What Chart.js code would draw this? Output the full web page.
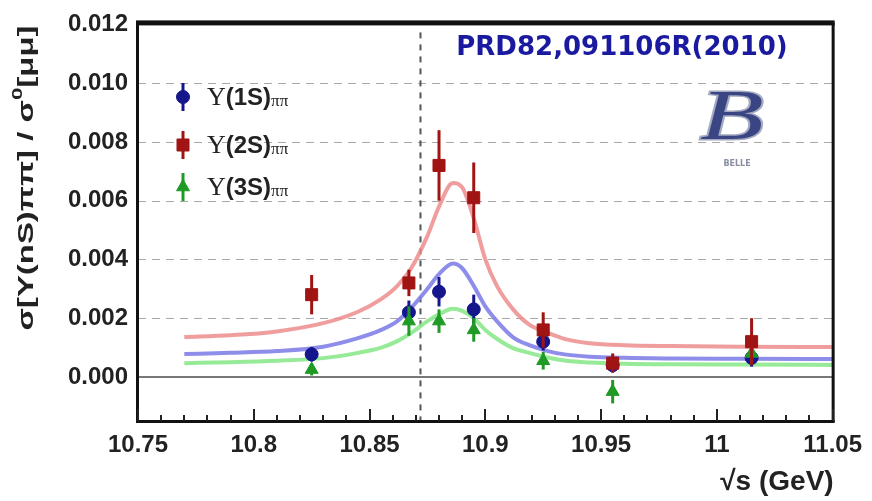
<!DOCTYPE html>
<html>
<head>
<meta charset="utf-8">
<script src="https://cdn.jsdelivr.net/npm/chart.js@4.4.0/dist/chart.umd.min.js"></script>
<style>
  body { margin: 0; background: #fff; }
  canvas { display: block; }
</style>
</head>
<body>
<canvas id="chartUps" width="872" height="501"></canvas>
<script>
// scan energies (GeV) and measured ratios
const energies = [10.825, 10.867, 10.880, 10.895, 10.925, 10.955, 11.015];

const ups1S    = [0.00077, 0.0022, 0.0029, 0.0023, 0.0012, 0.0004, 0.00065];
const ups1SErr = [0.00025, 0.0004, 0.0005, 0.0005, 0.0003, 0.0002, 0.0003];

const ups2S    = [0.0028, 0.0032, 0.0072, 0.0061, 0.0016, 0.00047, 0.0012];
const ups2SErr = [0.00067, 0.00045, 0.0012, 0.0012, 0.0006, 0.00033, 0.0008];

const ups3S    = [0.00025, 0.0019, 0.0019, 0.0016, 0.00055, -0.0005, 0.0008];
const ups3SErr = [0.0002, 0.0005, 0.0004, 0.0004, 0.0003, 0.0004, 0.0003];

// fitted curves
const fitX  = [10.77, 10.79, 10.81, 10.83, 10.845, 10.855, 10.862, 10.868, 10.875, 10.880, 10.886, 10.890,
               10.895, 10.900, 10.905, 10.912, 10.919, 10.927, 10.935, 10.945, 10.96, 10.98, 11.01, 11.05];
const fit2S = [0.00136, 0.00142, 0.00155, 0.00183, 0.00222, 0.00265, 0.0031, 0.0037, 0.0048, 0.0058, 0.0066, 0.00645,
               0.0054, 0.0040, 0.0031, 0.0023, 0.00178, 0.0015, 0.00128, 0.00115, 0.00108, 0.00105, 0.00103, 0.00102];
const fit1S = [0.00078, 0.00082, 0.00088, 0.00103, 0.00132, 0.0016, 0.0019, 0.00235, 0.0030, 0.0035, 0.00386, 0.0037,
               0.0031, 0.0024, 0.0019, 0.00135, 0.00108, 0.00088, 0.00076, 0.00069, 0.00065, 0.00063, 0.00062, 0.00061];
const fit3S = [0.00047, 0.0005, 0.00055, 0.00064, 0.00082, 0.001, 0.00122, 0.0015, 0.0019, 0.00213, 0.00232, 0.00225,
               0.002, 0.0016, 0.0013, 0.00098, 0.00082, 0.00066, 0.00055, 0.00049, 0.00045, 0.00043, 0.00042, 0.00041];

const xTicks = [10.75, 10.8, 10.85, 10.9, 10.95, 11, 11.05];
const xTickLabels = ['10.75', '10.8', '10.85', '10.9', '10.95', '11', '11.05'];
const yTicks = [0, 0.002, 0.004, 0.006, 0.008, 0.010, 0.012];
const peakLine = 10.872;

const legendItems = [
  { name: '1S', color: '#15158c', style: 'circle', r: 6.5 },
  { name: '2S', color: '#a01414', style: 'rect', r: 8.5 },
  { name: '3S', color: '#1f9a24', style: 'triangle', r: 7.5 }
];

const toPts = (xs, ys) => xs.map((x, i) => ({ x: x, y: ys[i] }));

const curve = (data, color) => ({
  data: toPts(fitX, data), showLine: true, borderColor: color, borderWidth: 4,
  pointRadius: 0, cubicInterpolationMode: 'monotone', order: 2
});
const marks = (data, errs, color, style, r) => ({
  data: toPts(energies, data), errors: errs, showLine: false,
  pointStyle: style, pointRadius: r, pointBackgroundColor: color, pointBorderColor: color,
  pointBorderWidth: 1, order: 1
});

const tickFont = { family: 'Liberation Sans', size: 24, weight: 'bold' };

// grid, zero line and the vertical dashed marker
const backdrop = {
  id: 'backdrop',
  beforeDatasetsDraw(chart) {
    const { ctx, chartArea: a, scales: { x, y } } = chart;
    ctx.save();
    ctx.strokeStyle = '#a8a8a8';
    ctx.lineWidth = 1;
    ctx.setLineDash([8, 6]);
    yTicks.forEach(v => {
      if (v === 0 || v === 0.012) return;
      const py = Math.round(y.getPixelForValue(v)) + 0.5;
      ctx.beginPath(); ctx.moveTo(a.left, py); ctx.lineTo(a.right, py); ctx.stroke();
    });
    ctx.setLineDash([]);
    ctx.strokeStyle = '#777';
    ctx.lineWidth = 2;
    const py0 = y.getPixelForValue(0);
    ctx.beginPath(); ctx.moveTo(a.left, py0); ctx.lineTo(a.right, py0); ctx.stroke();

    ctx.strokeStyle = '#4f5858';
    ctx.lineWidth = 2;
    ctx.setLineDash([6, 6]);
    const px = x.getPixelForValue(peakLine);
    ctx.beginPath(); ctx.moveTo(px, a.top + 8); ctx.lineTo(px, a.bottom); ctx.stroke();
    ctx.restore();
  },
  // error bars go right under their own markers
  beforeDatasetDraw(chart, args) {
    const ds = chart.data.datasets[args.index];
    if (!ds.errors) return;
    const { ctx, scales: { x, y } } = chart;
    ctx.save();
    ctx.strokeStyle = ds.pointBackgroundColor;
    ctx.lineWidth = 3;
    ds.data.forEach((p, j) => {
      const px = x.getPixelForValue(p.x);
      ctx.beginPath();
      ctx.moveTo(px, y.getPixelForValue(p.y - ds.errors[j]));
      ctx.lineTo(px, y.getPixelForValue(p.y + ds.errors[j]));
      ctx.stroke();
    });
    ctx.restore();
  }
};

const frame = {
  id: 'frame',
  afterDraw(chart) {
    const { ctx, chartArea: a, scales: { x } } = chart;
    ctx.save();
    ctx.fillStyle = '#111';
    ctx.fillRect(a.left - 2, a.top - 4, a.right - a.left + 4, 5);   // top
    ctx.fillRect(a.left - 2, a.top - 2, 3, a.bottom - a.top + 3);   // left
    ctx.fillRect(a.right - 1, a.top - 2, 3, a.bottom - a.top + 3);  // right
    ctx.fillRect(a.left - 2, a.bottom - 1, a.right - a.left + 4, 3); // bottom

    // inward tick marks every 0.01
    ctx.strokeStyle = '#222';
    ctx.lineWidth = 2;
    for (let i = 0; i <= 30; i++) {
      const v = 10.75 + i * 0.01;
      const px = Math.round(x.getPixelForValue(v));
      const len = i % 5 === 0 ? 12 : 6;
      ctx.beginPath(); ctx.moveTo(px, a.bottom); ctx.lineTo(px, a.bottom - len); ctx.stroke();
    }

    // axis titles
    ctx.fillStyle = '#222';
    ctx.textBaseline = 'alphabetic';
    ctx.font = 'bold 28px "Liberation Sans"';
    ctx.textAlign = 'right';
    ctx.fillText('\u221As (GeV)', a.right + 1, 490);

    const partA = '\u03C3[\u03A5(nS)\u03C0\u03C0] / \u03C3';
    const partB = '[\u03BC\u03BC]';
    ctx.font = 'bold 22px "Liberation Sans"';
    const wA = ctx.measureText(partA).width;
    const wB = ctx.measureText(partB).width;
    ctx.font = 'bold 15px "Liberation Sans"';
    const wS = ctx.measureText('0').width;
    const total = wA + wS + wB;
    ctx.translate(33, 178);
    ctx.rotate(-Math.PI / 2);
    ctx.scale(305 / total, 1);
    ctx.textAlign = 'left';
    let tx = -total / 2;
    ctx.font = 'bold 22px "Liberation Sans"';
    ctx.fillText(partA, tx, 0); tx += wA;
    ctx.font = 'bold 15px "Liberation Sans"';
    ctx.fillText('0', tx, -11); tx += wS;
    ctx.font = 'bold 22px "Liberation Sans"';
    ctx.fillText(partB, tx, 0);
    ctx.restore();

    // reference tag
    ctx.save();
    ctx.fillStyle = '#1a1aa0';
    ctx.font = 'bold 26px "DejaVu Sans"';
    ctx.textAlign = 'center';
    ctx.textBaseline = 'middle';
    ctx.fillText('PRD82,091106R(2010)', 622, 48);

    // Belle logo
    ctx.save();
    ctx.translate(732, 120);
    ctx.scale(1.45, 1);
    ctx.font = 'italic 72px "Liberation Serif"';
    ctx.lineWidth = 3;
    ctx.strokeStyle = '#a4aabf';
    ctx.strokeText('B', 0, 0);
    ctx.fillStyle = '#3a4684';
    ctx.fillText('B', 0, 0);
    ctx.restore();
    ctx.font = 'bold 8px "DejaVu Sans"';
    ctx.fillStyle = '#8890a0';
    ctx.fillText('BELLE', 737, 164);
    ctx.restore();

    // legend
    ctx.save();
    const rows = [97, 145, 187];
    legendItems.forEach((it, i) => {
      const cy = rows[i];
      ctx.strokeStyle = it.color;
      ctx.fillStyle = it.color;
      ctx.lineWidth = 3;
      ctx.beginPath(); ctx.moveTo(183, cy - 14); ctx.lineTo(183, cy + 14); ctx.stroke();
      ctx.lineWidth = 1;
      Chart.helpers.drawPoint(ctx, { pointStyle: it.style, rotation: 0, borderWidth: 1, radius: it.r }, 183, cy);
      ctx.fillStyle = '#222';
      ctx.textBaseline = 'middle';
      ctx.textAlign = 'left';
      let lx = 207;
      ctx.font = '26px "Liberation Serif"';
      ctx.fillText('\u03A5', lx, cy + 1); lx += ctx.measureText('\u03A5').width;
      ctx.font = 'bold 24px "Liberation Sans"';
      const t = '(' + it.name + ')';
      ctx.fillText(t, lx, cy + 1); lx += ctx.measureText(t).width;
      ctx.font = '17px "Liberation Serif"';
      ctx.fillText('\u03C0\u03C0', lx, cy + 5);
    });
    ctx.restore();
  }
};

const ctx = document.getElementById('chartUps').getContext('2d');

new Chart(ctx, {
  type: 'scatter',
  data: {
    datasets: [
      curve(fit2S, 'rgba(236,140,140,0.85)'),
      curve(fit1S, 'rgba(130,130,232,0.9)'),
      curve(fit3S, 'rgba(140,232,140,0.9)'),
      marks(ups2S, ups2SErr, '#a01414', 'rect', 8.5),
      marks(ups3S, ups3SErr, '#1f9a24', 'triangle', 7.5),
      marks(ups1S, ups1SErr, '#15158c', 'circle', 6.5)
    ]
  },
  options: {
    responsive: false,
    animation: false,
    layout: { padding: { left: 0, right: 34, top: 20, bottom: 0 } },
    plugins: { legend: { display: false }, tooltip: { enabled: false } },
    scales: {
      x: {
        type: 'linear', min: 10.75, max: 11.05,
        grid: { display: false, drawTicks: false }, border: { display: false },
        afterBuildTicks: s => { s.ticks = xTicks.map(v => ({ value: v })); },
        afterFit: s => { s.height = 80; },
        ticks: { font: tickFont, color: '#222', padding: 10, autoSkip: false, maxRotation: 0,
                 callback: (v, i) => xTickLabels[i] }
      },
      y: {
        min: -0.0015, max: 0.012,
        grid: { display: false, drawTicks: false }, border: { display: false },
        afterBuildTicks: s => { s.ticks = yTicks.map(v => ({ value: v })); },
        afterFit: s => { s.width = 138; },
        ticks: { font: tickFont, color: '#222', padding: 10, callback: v => v.toFixed(3) }
      }
    }
  },
  plugins: [backdrop, frame]
});
</script>
</body>
</html>
